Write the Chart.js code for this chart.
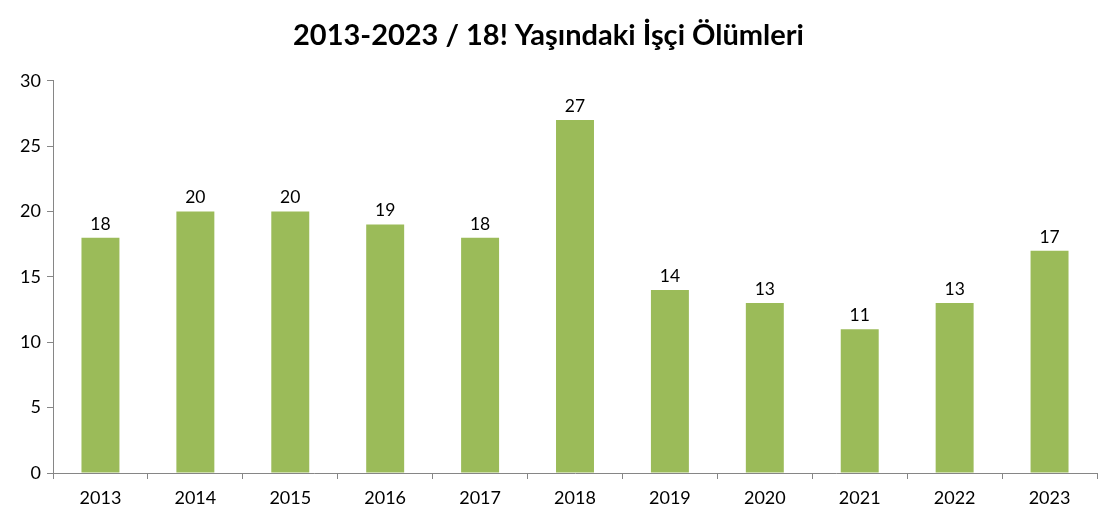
<!DOCTYPE html>
<html>
<head>
<meta charset="utf-8">
<script src="https://cdn.jsdelivr.net/npm/chart.js@4"></script>
<style>
  html, body { margin: 0; padding: 0; background: #fff; }
  #wrap { width: 1120px; height: 525px; position: relative; }
</style>
</head>
<body>
<div id="wrap"><canvas id="deaths"></canvas></div>
<script>
const years = ['2013', '2014', '2015', '2016', '2017', '2018', '2019', '2020', '2021', '2022', '2023'];
const deaths = [18, 20, 20, 19, 18, 27, 14, 13, 11, 13, 17];
const yTicks = [0, 5, 10, 15, 20, 25, 30];

const fontFamily = 'Lato, "Open Sans", sans-serif';

// values above each bar
const barLabels = {
  id: 'barLabels',
  afterDatasetsDraw(chart) {
    const ctx = chart.ctx;
    const meta = chart.getDatasetMeta(0);
    ctx.save();
    ctx.fillStyle = '#000';
    ctx.font = '17.5px ' + fontFamily;
    ctx.textAlign = 'center';
    ctx.textBaseline = 'bottom';
    meta.data.forEach((bar, i) => {
      ctx.fillText(deaths[i], bar.x, bar.y - 5);
    });
    ctx.restore();
  }
};

new Chart(document.getElementById('deaths'), {
  type: 'bar',
  data: {
    labels: years,
    datasets: [{
      data: deaths,
      backgroundColor: '#9bbb59',
      barPercentage: 0.4,
      categoryPercentage: 1
    }]
  },
  options: {
    responsive: true,
    maintainAspectRatio: false,
    animation: false,
    layout: { padding: { left: 0, right: 23, top: 0, bottom: 0 } },
    plugins: {
      legend: { display: false },
      tooltip: { enabled: false },
      title: {
        display: true,
        text: '2013-2023 / 18! Yaşındaki İşçi Ölümleri',
        color: '#000',
        font: { family: fontFamily, size: 29, weight: 'bold' },
        padding: { top: 18, bottom: 28 }
      }
    },
    scales: {
      x: {
        grid: { drawOnChartArea: false, drawTicks: true, tickLength: 6, color: '#868686', offset: true },
        border: { color: '#868686' },
        ticks: { color: '#000', font: { family: fontFamily, size: 18 }, padding: 8 },
        afterFit(scale) { scale.height = 52; }
      },
      y: {
        min: 0,
        max: 30,
        afterBuildTicks(scale) { scale.ticks = yTicks.map(v => ({ value: v })); },
        grid: { drawOnChartArea: false, drawTicks: true, tickLength: 6, color: '#868686' },
        border: { color: '#868686' },
        ticks: { color: '#000', font: { family: fontFamily, size: 18 }, padding: 6 },
        afterFit(scale) { scale.width = 53; }
      }
    }
  },
  plugins: [barLabels]
});
</script>
</body>
</html>
